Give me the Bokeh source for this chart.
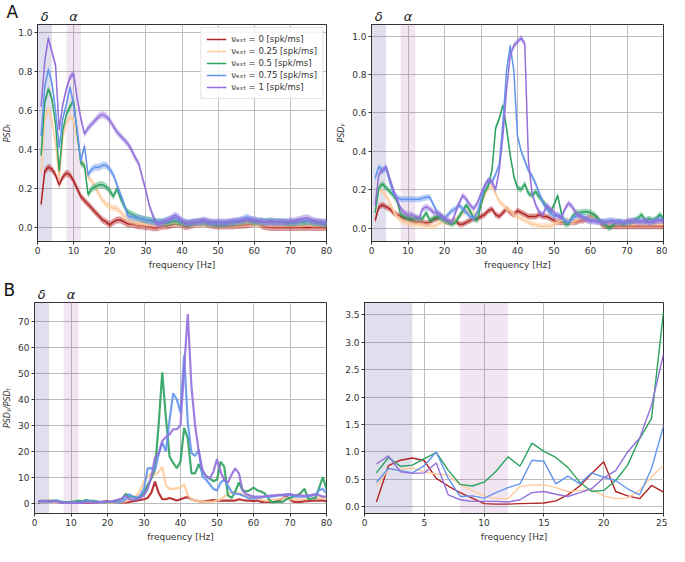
from bokeh.plotting import figure
from bokeh.layouts import column, row
from bokeh.models import (BoxAnnotation, FixedTicker, PrintfTickFormatter, Range1d,
                          LinearAxis, Title)
from bokeh.embed import file_html
from bokeh.resources import INLINE

# ---------------- data ----------------
freq = list(range(1, 81))
series_labels = ["νₑₓₜ = 0 [spk/ms]", "νₑₓₜ = 0.25 [spk/ms]", "νₑₓₜ = 0.5 [spk/ms]",
                 "νₑₓₜ = 0.75 [spk/ms]", "νₑₓₜ = 1 [spk/ms]"]
x_ticks_full = [0, 10, 20, 30, 40, 50, 60, 70, 80]
x_ticks_zoom = [0, 5, 10, 15, 20, 25]
delta_band = (0, 4)
alpha_band = (8, 12)
band_names = {2: "δ", 10: "α"}
sd_T = 0.018
sd_G = 0.016

# PSD_T (panel A, left)
psdT_0 = [0.12, 0.29, 0.31, 0.30, 0.27, 0.22, 0.26, 0.28, 0.27, 0.24,
          0.20, 0.16, 0.14, 0.12, 0.10, 0.08, 0.06, 0.04, 0.03, 0.015,
          0.03, 0.04, 0.04, 0.03, 0.02, 0.02, 0.015, 0.01, 0.01, 0.005,
          0.005, 0.0, 0.0, 0.005, 0.01, 0.01, 0.015, 0.02, 0.02, 0.015,
          0.005, 0.01, 0.015, 0.02, 0.02, 0.025, 0.02, 0.015, 0.01, 0.01,
          0.01, 0.01, 0.01, 0.01, 0.012, 0.012, 0.015, 0.015, 0.02, 0.025,
          0.025, 0.012, 0.005, 0.003, 0.002, 0.002, 0.002, 0.002, 0.002, 0.002,
          0.002, 0.002, 0.002, 0.002, 0.002, 0.002, 0.002, 0.002, 0.002, 0.002]
psdT_025 = [0.28, 0.55, 0.61, 0.55, 0.43, 0.24, 0.46, 0.54, 0.57, 0.55,
            0.46, 0.35, 0.31, 0.26, 0.24, 0.21, 0.17, 0.14, 0.12, 0.11,
            0.10, 0.10, 0.08, 0.06, 0.045, 0.035, 0.03, 0.025, 0.02, 0.02,
            0.02, 0.02, 0.02, 0.02, 0.02, 0.025, 0.025, 0.025, 0.025, 0.02,
            0.02, 0.02, 0.02, 0.02, 0.02, 0.025, 0.025, 0.02, 0.02, 0.02,
            0.02, 0.02, 0.02, 0.02, 0.02, 0.02, 0.025, 0.025, 0.025, 0.025,
            0.02, 0.02, 0.02, 0.02, 0.02, 0.02, 0.02, 0.02, 0.02, 0.02,
            0.02, 0.02, 0.02, 0.025, 0.025, 0.02, 0.02, 0.02, 0.02, 0.02]
psdT_05 = [0.37, 0.64, 0.71, 0.66, 0.53, 0.29, 0.50, 0.58, 0.62, 0.65,
           0.48, 0.33, 0.32, 0.17, 0.20, 0.21, 0.22, 0.22, 0.21, 0.19,
           0.16, 0.20, 0.15, 0.11, 0.08, 0.07, 0.06, 0.05, 0.045, 0.04,
           0.04, 0.035, 0.03, 0.03, 0.025, 0.025, 0.03, 0.035, 0.03, 0.025,
           0.02, 0.02, 0.025, 0.03, 0.03, 0.03, 0.025, 0.025, 0.02, 0.02,
           0.02, 0.02, 0.025, 0.025, 0.03, 0.03, 0.035, 0.04, 0.035, 0.03,
           0.03, 0.03, 0.03, 0.035, 0.035, 0.03, 0.03, 0.03, 0.025, 0.025,
           0.025, 0.03, 0.03, 0.03, 0.035, 0.03, 0.025, 0.025, 0.02, 0.02]
psdT_075 = [0.47, 0.72, 0.81, 0.74, 0.60, 0.41, 0.56, 0.63, 0.72, 0.63,
            0.50, 0.34, 0.42, 0.27, 0.30, 0.31, 0.31, 0.32, 0.32, 0.30,
            0.27, 0.22, 0.17, 0.12, 0.06, 0.055, 0.05, 0.05, 0.045, 0.04,
            0.035, 0.03, 0.03, 0.03, 0.035, 0.04, 0.045, 0.05, 0.045, 0.035,
            0.03, 0.025, 0.03, 0.03, 0.03, 0.035, 0.03, 0.025, 0.025, 0.025,
            0.025, 0.025, 0.03, 0.03, 0.035, 0.04, 0.045, 0.055, 0.045, 0.04,
            0.035, 0.035, 0.03, 0.03, 0.03, 0.03, 0.03, 0.03, 0.03, 0.03,
            0.03, 0.03, 0.035, 0.035, 0.035, 0.03, 0.03, 0.03, 0.025, 0.025]
psdT_1 = [0.62, 0.85, 0.97, 0.90, 0.83, 0.50, 0.63, 0.71, 0.77, 0.79,
          0.66, 0.56, 0.48, 0.51, 0.53, 0.55, 0.57, 0.58, 0.57, 0.55,
          0.52, 0.49, 0.47, 0.45, 0.43, 0.40, 0.36, 0.33, 0.26, 0.19,
          0.11, 0.06, 0.02, 0.02, 0.03, 0.04, 0.05, 0.065, 0.055, 0.035,
          0.025, 0.025, 0.03, 0.03, 0.035, 0.04, 0.035, 0.03, 0.03, 0.03,
          0.03, 0.03, 0.03, 0.035, 0.035, 0.035, 0.04, 0.04, 0.04, 0.04,
          0.035, 0.035, 0.03, 0.03, 0.03, 0.03, 0.03, 0.03, 0.03, 0.035,
          0.035, 0.04, 0.045, 0.05, 0.05, 0.04, 0.035, 0.03, 0.03, 0.03]

# PSD_Gamma (panel A, right)
psdG_0 = [0.04, 0.11, 0.12, 0.11, 0.10, 0.08, 0.07, 0.06, 0.05, 0.05,
          0.04, 0.03, 0.03, 0.03, 0.025, 0.03, 0.045, 0.05, 0.06, 0.04,
          0.03, 0.03, 0.04, 0.02, 0.02, 0.03, 0.04, 0.05, 0.05, 0.06,
          0.07, 0.09, 0.10, 0.07, 0.06, 0.08, 0.10, 0.08, 0.07, 0.09,
          0.08, 0.07, 0.06, 0.06, 0.06, 0.07, 0.06, 0.06, 0.05, 0.04,
          0.03, 0.03, 0.03, 0.03, 0.03, 0.03, 0.04, 0.04, 0.05, 0.055,
          0.06, 0.05, 0.02, 0.01, 0.01, 0.01, 0.01, 0.01, 0.01, 0.01,
          0.01, 0.01, 0.01, 0.01, 0.01, 0.01, 0.01, 0.01, 0.01, 0.01]
psdG_025 = [0.12, 0.20, 0.19, 0.17, 0.13, 0.09, 0.06, 0.04, 0.03, 0.025,
            0.02, 0.02, 0.02, 0.015, 0.01, 0.01, 0.01, 0.02, 0.03, 0.03,
            0.03, 0.03, 0.04, 0.06, 0.08, 0.09, 0.08, 0.07, 0.08, 0.12,
            0.17, 0.21, 0.22, 0.18, 0.14, 0.12, 0.10, 0.09, 0.07, 0.06,
            0.05, 0.04, 0.03, 0.02, 0.02, 0.01, 0.01, 0.01, 0.01, 0.02,
            0.03, 0.04, 0.04, 0.04, 0.03, 0.04, 0.05, 0.05, 0.04, 0.05,
            0.06, 0.04, 0.03, 0.02, 0.02, 0.02, 0.02, 0.02, 0.02, 0.02,
            0.02, 0.02, 0.02, 0.02, 0.02, 0.02, 0.02, 0.02, 0.02, 0.02]
psdG_05 = [0.08, 0.21, 0.23, 0.21, 0.19, 0.17, 0.14, 0.07, 0.06, 0.05,
           0.05, 0.05, 0.05, 0.05, 0.08, 0.04, 0.05, 0.06, 0.05, 0.04,
           0.03, 0.02, 0.03, 0.06, 0.09, 0.12, 0.09, 0.05, 0.04, 0.12,
           0.19, 0.22, 0.30, 0.52, 0.57, 0.64, 0.52, 0.38, 0.27, 0.21,
           0.20, 0.23, 0.18, 0.17, 0.19, 0.16, 0.14, 0.11, 0.08, 0.12,
           0.17, 0.08, 0.02, 0.02, 0.06, 0.08, 0.08, 0.085, 0.085, 0.08,
           0.07, 0.05, 0.03, 0.02, 0.0, 0.01, 0.03, 0.03, 0.02, 0.03,
           0.03, 0.04, 0.05, 0.07, 0.04, 0.05, 0.04, 0.05, 0.07, 0.05]
psdG_075 = [0.26, 0.32, 0.30, 0.31, 0.24, 0.18, 0.16, 0.15, 0.15, 0.15,
            0.15, 0.15, 0.15, 0.155, 0.16, 0.16, 0.12, 0.08, 0.06, 0.05,
            0.07, 0.09, 0.10, 0.12, 0.10, 0.08, 0.06, 0.05, 0.08, 0.15,
            0.22, 0.25, 0.24, 0.28, 0.33, 0.55, 0.82, 0.95, 0.82, 0.48,
            0.40, 0.35, 0.30, 0.27, 0.23, 0.18, 0.13, 0.10, 0.08, 0.06,
            0.07, 0.06, 0.04, 0.03, 0.05, 0.06, 0.07, 0.06, 0.05, 0.04,
            0.04, 0.035, 0.035, 0.035, 0.04, 0.04, 0.035, 0.035, 0.03, 0.03,
            0.035, 0.04, 0.04, 0.035, 0.03, 0.03, 0.035, 0.04, 0.045, 0.04]
psdG_1 = [0.12, 0.28, 0.30, 0.32, 0.26, 0.20, 0.15, 0.10, 0.08, 0.07,
          0.07, 0.06, 0.05, 0.10, 0.11, 0.10, 0.08, 0.08, 0.07, 0.05,
          0.04, 0.03, 0.08, 0.13, 0.17, 0.15, 0.12, 0.10, 0.13, 0.18,
          0.22, 0.25, 0.24, 0.20, 0.30, 0.48, 0.72, 0.90, 0.95, 0.97,
          0.99, 0.96, 0.35, 0.18, 0.12, 0.08, 0.07, 0.12, 0.10, 0.08,
          0.06, 0.05, 0.10, 0.13, 0.11, 0.08, 0.06, 0.05, 0.04, 0.035,
          0.035, 0.03, 0.03, 0.03, 0.03, 0.035, 0.03, 0.03, 0.03, 0.035,
          0.04, 0.035, 0.03, 0.035, 0.04, 0.03, 0.03, 0.035, 0.04, 0.035]

# PSD_Gamma / PSD_T (panel B)
ratio_0 = [0.09, 0.75, 0.85, 0.89, 0.84, 0.52, 0.38, 0.26, 0.16, 0.06,
           0.05, 0.05, 0.06, 0.065, 0.07, 0.11, 0.22, 0.38, 0.61, 0.82,
           0.28, 0.20, 0.15, 0.39, 0.27, 0.5, 0.8, 1.0, 1.2, 1.5,
           2.0, 4.0, 8.3, 4.0, 1.5, 1.5, 2.0, 1.5, 1.0, 1.5,
           2.0, 2.3, 1.5, 1.0, 0.8, 0.5, 0.8, 1.0, 1.2, 1.0,
           1.0, 1.0, 1.0, 1.0, 1.0, 1.5, 1.2, 1.0, 1.0, 0.8,
           1.0, 0.5, 0.5, 0.5, 0.5, 0.5, 1.0, 2.0, 2.5, 1.5,
           0.5, 0.5, 0.5, 0.8, 0.8, 1.0, 1.0, 1.0, 1.0, 0.8]
ratio_025 = [0.38, 0.68, 0.68, 0.71, 0.64, 0.60, 0.58, 0.40, 0.30, 0.20,
             0.15, 0.15, 0.37, 0.40, 0.40, 0.35, 0.28, 0.30, 0.32, 0.20,
             0.15, 0.16, 0.30, 0.55, 0.76, 1.2, 2.0, 3.0, 5.0, 8.5,
             10.3, 11.5, 11.0, 12.0, 14.0, 7.0, 5.5, 5.5, 5.8, 6.0,
             7.3, 3.0, 1.5, 1.0, 0.8, 0.5, 0.5, 0.5, 0.5, 1.0,
             1.5, 2.5, 3.5, 4.0, 4.5, 4.0, 3.5, 3.0, 2.5, 2.0,
             2.0, 1.5, 1.0, 1.0, 1.0, 1.5, 1.5, 2.0, 2.0, 1.5,
             1.5, 1.5, 1.5, 1.5, 1.5, 2.0, 2.0, 2.0, 2.0, 2.0]
ratio_05 = [0.62, 0.90, 0.74, 0.76, 0.88, 0.99, 0.67, 0.41, 0.38, 0.45,
            0.65, 0.91, 0.74, 1.16, 1.01, 0.90, 0.72, 0.45, 0.28, 0.30,
            0.48, 0.76, 1.24, 1.61, 3.55, 2.5, 2.5, 2.0, 2.5, 4.0,
            7.0, 9.5, 13.0, 30.0, 50.5, 33.0, 18.0, 15.5, 13.5, 16.0,
            29.0, 25.0, 11.5, 11.5, 15.0, 12.0, 10.5, 9.5, 8.5, 9.0,
            16.0, 14.0, 3.0, 2.0, 4.5, 8.0, 5.0, 4.5, 5.0, 6.0,
            5.0, 4.5, 3.8, 2.0, 0.3, 0.5, 0.5, 0.5, 1.5, 2.0,
            2.5, 3.0, 4.0, 5.5, 1.5, 1.8, 2.0, 6.0, 10.0, 5.5]
ratio_075 = [0.45, 0.70, 0.66, 0.62, 0.75, 1.00, 0.52, 0.19, 0.20, 0.16,
             0.26, 0.35, 0.42, 0.85, 0.83, 0.42, 0.56, 0.42, 0.62, 0.54,
             0.48, 0.33, 0.22, 0.70, 1.47, 3.5, 2.2, 2.0, 3.0, 5.5,
             13.4, 13.5, 12.8, 18.8, 23.5, 20.0, 32.0, 42.4, 40.0, 35.0,
             57.0, 31.0, 19.4, 18.2, 20.5, 10.3, 9.1, 7.3, 5.5, 4.9,
             7.9, 9.1, 6.7, 4.3, 3.6, 3.5, 3.0, 2.4, 1.8, 1.8,
             2.0, 2.2, 2.5, 2.5, 2.5, 2.8, 3.0, 3.0, 3.0, 3.0,
             2.8, 2.5, 2.5, 2.5, 2.5, 3.0, 3.0, 5.0, 5.5, 3.8]
ratio_1 = [0.78, 0.93, 0.64, 0.61, 0.62, 0.80, 0.22, 0.13, 0.10, 0.10,
           0.10, 0.09, 0.13, 0.26, 0.28, 0.23, 0.19, 0.26, 0.33, 0.53,
           0.66, 1.00, 1.25, 1.85, 2.78, 1.5, 1.2, 1.5, 2.0, 3.0,
           5.5, 10.0, 17.6, 19.0, 24.0, 25.5, 26.5, 28.5, 28.5, 30.0,
           52.0, 72.9, 45.0, 30.0, 20.0, 13.0, 10.3, 9.5, 12.0, 17.0,
           12.0, 9.0, 7.9, 11.0, 13.4, 11.5, 5.0, 3.5, 3.0, 2.5,
           2.5, 2.5, 2.5, 2.8, 3.0, 3.0, 3.2, 3.2, 3.5, 3.5,
           3.2, 3.0, 3.0, 2.8, 3.0, 3.2, 3.5, 3.0, 2.5, 2.5]

colors = ["#b22222", "#fdcb9c", "#2ca25f", "#6495ed", "#9370db"]
psdT = [psdT_0, psdT_025, psdT_05, psdT_075, psdT_1]
psdG = [psdG_0, psdG_025, psdG_05, psdG_075, psdG_1]
ratios = [ratio_0, ratio_025, ratio_05, ratio_075, ratio_1]

FONT = "DejaVu Sans"
TXT = "#333333"


def make_fig(width, height, xr, yr, borders, xticks, yticks, yfmt, ylabel, panel_letter):
    l, r, t, b = borders
    p = figure(width=width, height=height, x_range=Range1d(*xr), y_range=Range1d(*yr),
               output_backend="svg", toolbar_location=None,
               min_border_left=l, min_border_right=r, min_border_top=t, min_border_bottom=b)
    p.outline_line_color = "#333333"
    p.outline_line_width = 1
    p.outline_line_alpha = 1
    p.xaxis.ticker = FixedTicker(ticks=xticks)
    p.yaxis.ticker = FixedTicker(ticks=yticks)
    p.yaxis.formatter = PrintfTickFormatter(format=yfmt)
    for ax in (p.xaxis, p.yaxis):
        ax.major_tick_out = 3
        ax.major_tick_in = 0
        ax.minor_tick_line_color = None
        ax.major_label_standoff = 2
        ax.axis_label_standoff = 3
        ax.major_label_text_font = FONT
        ax.major_label_text_font_size = "9px"
        ax.major_label_text_color = TXT
        ax.axis_line_color = "#333333"
        ax.major_tick_line_color = "#333333"
        ax.axis_label_text_font = FONT
        ax.axis_label_text_color = TXT
    p.xaxis.axis_label = "frequency [Hz]"
    p.xaxis.axis_label_text_font_size = "9px"
    p.xaxis.axis_label_text_font_style = "normal"
    if ylabel:
        p.yaxis.axis_label = ylabel
        p.yaxis.axis_label_text_font_size = "8px"
        p.yaxis.axis_label_text_font_style = "italic"
    p.grid.grid_line_color = "#bdbdbd"
    p.grid.grid_line_width = 1
    p.add_layout(BoxAnnotation(left=delta_band[0], right=delta_band[1], fill_color="#40409a",
                               fill_alpha=0.17, line_color=None, level="underlay"))
    p.add_layout(BoxAnnotation(left=alpha_band[0], right=alpha_band[1], fill_color="#a050a0",
                               fill_alpha=0.15, line_color=None, level="underlay"))
    if panel_letter is not None:
        # band names written as tick labels of an axis above the frame
        top = LinearAxis(ticker=FixedTicker(ticks=list(band_names.keys())),
                         major_label_overrides=band_names)
        top.axis_line_color = None
        top.major_tick_line_color = None
        top.minor_tick_line_color = None
        top.major_tick_out = 0
        top.major_tick_in = 0
        top.major_label_standoff = 1
        top.major_label_text_font = FONT
        top.major_label_text_font_size = "13px"
        top.major_label_text_font_style = "italic"
        top.major_label_text_color = "#222222"
        p.add_layout(top, "above")
        if panel_letter:
            p.add_layout(Title(text=panel_letter, align="left", offset=-l + 1, standoff=-33,
                               text_font=FONT, text_font_size="17px",
                               text_font_style="normal", text_color="#111111"), "above")
    return p


# ---- Panel A left ----
p1 = make_fig(334, 272, (0, 80), (-0.07, 1.04), (32, 8, 24, 29), x_ticks_full,
              [0, 0.2, 0.4, 0.6, 0.8, 1.0], "%.1f", "PSDₜ", "A")
for vals, c, lab in zip(psdT, colors, series_labels):
    p1.varea(x=freq, y1=[v - sd_T for v in vals], y2=[v + sd_T for v in vals],
             fill_color=c, fill_alpha=0.45)
    p1.line(freq, vals, line_color=c, line_width=1.5, legend_label=lab)
p1.legend.location = "top_right"
p1.legend.label_text_font = FONT
p1.legend.label_text_font_size = "8.5px"
p1.legend.label_text_color = TXT
p1.legend.glyph_width = 20
p1.legend.glyph_height = 12
p1.legend.label_height = 12
p1.legend.spacing = 0
p1.legend.padding = 5
p1.legend.margin = 3
p1.legend.background_fill_alpha = 0.85
p1.legend.border_line_color = "#cccccc"

# ---- Panel A right ----
p2 = make_fig(333, 272, (0, 80), (-0.07, 1.06), (36, 4, 24, 29), x_ticks_full,
              [0, 0.2, 0.4, 0.6, 0.8, 1.0], "%.1f", "PSDᵧ", "")
for vals, c in zip(psdG, colors):
    p2.varea(x=freq, y1=[v - sd_G for v in vals], y2=[v + sd_G for v in vals],
             fill_color=c, fill_alpha=0.45)
    p2.line(freq, vals, line_color=c, line_width=1.5)

# ---- Panel B left ----
p3 = make_fig(334, 272, (0, 80), (-4, 77.4), (32, 8, 30, 28), x_ticks_full,
              [0, 10, 20, 30, 40, 50, 60, 70], "%d", "PSDᵧ/PSDₜ", "B")
for vals, c in zip(ratios, colors):
    p3.line(freq, vals, line_color=c, line_width=2.2, line_alpha=0.9)

# ---- Panel B right ----
p4 = make_fig(333, 272, (0, 25), (-0.12, 3.72), (30, 4, 30, 28), x_ticks_zoom,
              [0, 0.5, 1.0, 1.5, 2.0, 2.5, 3.0, 3.5], "%.1f", None, None)
for vals, c in zip(ratios, colors):
    p4.line(freq[:25], vals[:25], line_color=c, line_width=1.4)

layout = column(row(p1, p2), row(p3, p4))
open("out.html", "w").write(file_html(layout, INLINE))
